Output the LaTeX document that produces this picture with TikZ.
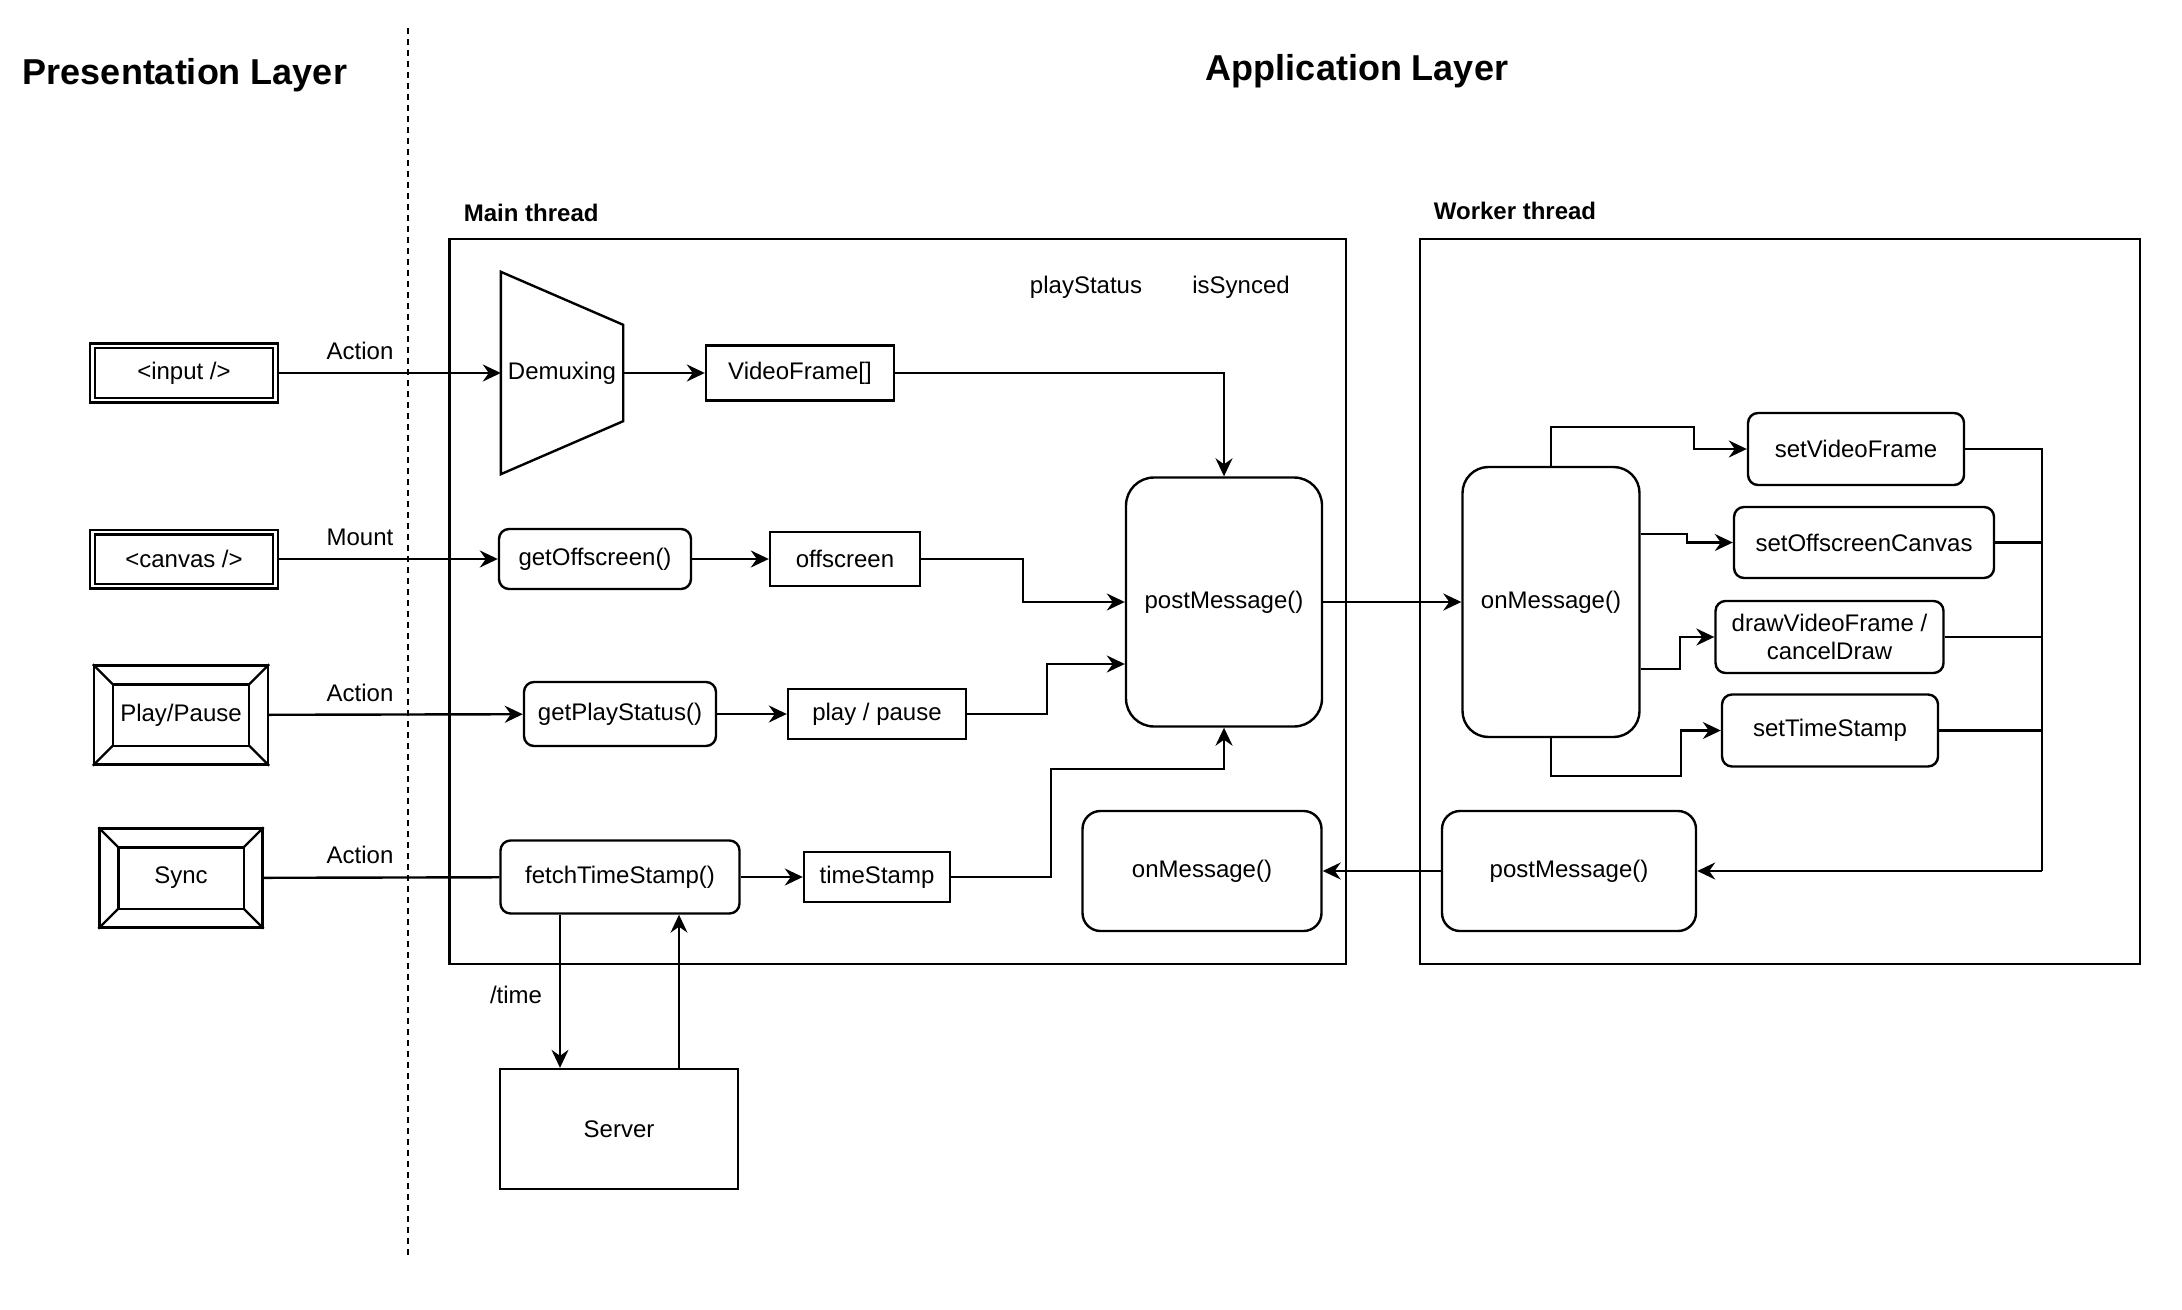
\documentclass[tikz,border=0pt]{standalone}
\usepackage{fontspec}
\setmainfont{Liberation Sans}
\usetikzlibrary{arrows.meta,calc}

\begin{document}
\begin{tikzpicture}[x=0.5pt,y=-0.5pt,line width=1.2pt,>={Stealth[length=9pt,width=8.5pt,inset=3pt]}]
    \tikzstyle{every node}=[font=\fontsize{12}{14}\selectfont]
    \tikzstyle{box}=[rectangle,draw=black,fill=white,inner sep=1pt]
    \tikzstyle{func}=[box,rounded corners=5pt]
    \tikzstyle{msg}=[box,rounded corners=14pt]
    \tikzstyle{elem}=[box,double=white,double distance=1.1pt,minimum width=91.5pt,minimum height=27pt]
    \tikzstyle{button}=[box,minimum height=49.5pt]
    \tikzstyle{title}=[font=\fontsize{18}{22}\selectfont\bfseries]
    \tikzstyle{thread}=[font=\fontsize{12}{14}\selectfont\bfseries,anchor=west]

    \fill[white] (0,0) rectangle (2182,1310);
    \useasboundingbox (0,0) rectangle (2182,1310);

    \node[title] (pres) at (185,75) {Presentation Layer};
    \node[title] (app) at (1357,71) {Application Layer};
    \draw[line width=0.7pt,dash pattern=on 3pt off 2.5pt] (408,28) -- (408,1259);

    % thread frames
    \draw (449.5,239) rectangle (1346,964);
    \draw (1420,239) rectangle (2140,964);
    \node[thread] (mainlbl) at (456,213) {Main thread};
    \node[thread] (workerlbl) at (1426,211) {Worker thread};

    % presentation layer
    \node[elem] (input) at (184,373) {<input />};
    \node[elem] (canvas) at (184,559) {<canvas />};
    \node[button,minimum width=87pt] (pp) at (181,715) {Play/Pause};
    \node[button,minimum width=81.5pt] (sync) at (181,878) {Sync};
    \foreach \b in {pp,sync}{
        \draw ($(\b.north west)+(20,20)$) rectangle ($(\b.south east)+(-20,-20)$);
        \draw (\b.north west) -- ++(20,20) (\b.north east) -- ++(-20,20)
              (\b.south west) -- ++(20,-20) (\b.south east) -- ++(-20,-20);
    }
    \node (act1) at (360,351) {Action};
    \node (mount) at (360,537) {Mount};
    \node (act2) at (360,693) {Action};
    \node (act3) at (360,855) {Action};

    % main thread
    \node[minimum width=60pt,minimum height=100pt,inner sep=0pt] (demux) at (562,373) {Demuxing};
    \draw (demux.north west) -- ([yshift=-26.5pt]demux.north east) -- ([yshift=26.5pt]demux.south east) -- (demux.south west) -- cycle;
    \node[box,minimum width=94pt,minimum height=27.5pt] (vf) at (800,373) {VideoFrame[]};
    \node[func,minimum width=96pt,minimum height=30pt] (goff) at (595,559) {getOffscreen()};
    \node[box,minimum width=75pt,minimum height=27pt] (off) at (845,559) {offscreen};
    \node[func,minimum width=96pt,minimum height=32pt] (gps) at (620,714) {getPlayStatus()};
    \node[box,minimum width=89pt,minimum height=25pt] (play) at (877,714) {play / pause};
    \node[func,minimum width=119.5pt,minimum height=36.5pt] (fts) at (620,877) {fetchTimeStamp()};
    \node[box,minimum width=73pt,minimum height=25pt] (ts) at (877,877) {timeStamp};
    \node[box,minimum width=119pt,minimum height=60pt] (server) at (619,1129) {Server};
    \node[msg,minimum width=98pt,minimum height=124.5pt] (pmain) at (1224,602) {postMessage()};
    \node[func,rounded corners=9pt,minimum width=119.5pt,minimum height=60pt] (omm) at (1202,871) {onMessage()};
    \node (pstat) at (1086,287) {playStatus};
    \node (synced) at (1241,287) {isSynced};
    \node (time) at (516,995) {/time};

    % worker thread
    \node[msg,rounded corners=13pt,minimum width=88.5pt,minimum height=135pt] (om) at (1551,602) {onMessage()};
    \node[func,rounded corners=9pt,minimum width=127pt,minimum height=60pt] (pw) at (1569,871) {postMessage()};
    \node[func,minimum width=108pt,minimum height=36pt] (svf) at (1856,449) {setVideoFrame};
    \node[func,minimum width=130pt,minimum height=35.5pt] (soc) at (1864,542.5) {setOffscreenCanvas};
    \node[func,minimum width=114pt,minimum height=36pt,align=center] (dvf) at (1829.5,637) {drawVideoFrame /\\cancelDraw};
    \node[func,minimum width=108pt,minimum height=36pt] (sts) at (1830,730.5) {setTimeStamp};
    \coordinate (merge) at (2042,871);

    \foreach \from/\to in {input/demux,demux/vf,canvas/goff,goff/off,pp/gps,gps/play,fts/ts,pmain/om,pw/omm}
        \draw[->] (\from) -- (\to);
    \draw (sync) -- (fts);

    \draw[->] (vf) -| (pmain);
    \draw[->] (off.east) -- ++(102,0) |- (pmain.west);
    \draw[->] (play.east) -- ++(80,0) |- (pmain.west |- 0,664);
    \draw[->] (ts.east) -- ++(100,0) -- ++(0,-108) -| (pmain.south);
    \draw[->,line width=0.7pt] (fts.south -| 560,0) -- (server.north -| 560,0);
    \draw[->,line width=0.7pt] (server.north -| 679,0) -- (fts.south -| 679,0);

    \draw[->] (om.north) |- (1694,427) |- (svf.west);
    \draw[->] (om.east |- 0,534) -- (1687,534) |- (soc.west);
    \draw[->] (om.east |- 0,669) -- (1680,669) |- (dvf.west);
    \draw[->] (om.south) |- (1681,776) |- (sts.west);
    \foreach \n in {svf,soc,dvf,sts}
        \draw (\n.east) -| (merge);
    \draw[->] (merge) -- (pw);
\end{tikzpicture}
\end{document}
